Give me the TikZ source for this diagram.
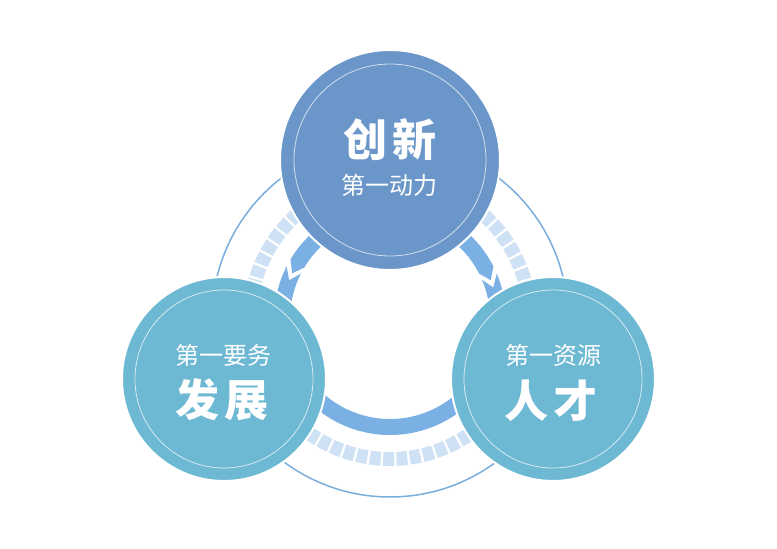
\documentclass[tikz,border=0pt]{standalone}
\usepackage{fontspec}
\newfontfamily\cjk{Noto Sans CJK SC}
\definecolor{topc}{HTML}{6A96C9}
\definecolor{sidec}{HTML}{6DB8D3}
\definecolor{bandc}{HTML}{7AB0E3}
\definecolor{sqc}{HTML}{CFE1F4}
\definecolor{ringc}{HTML}{7AAEDC}
\tikzset{
  bigcirc/.style={circle, inner sep=0pt, draw=white, line width=2pt},
  subtxt/.style={text=white, font=\cjk\fontsize{24}{24}\selectfont},
  bigtxt/.style={text=white, font=\cjk\bfseries\fontsize{44}{44}\selectfont},
  innerring/.style={draw=white, draw opacity=0.7, line width=0.8pt}
}
\begin{document}
\begin{tikzpicture}[x=1pt,y=1pt]
\useasboundingbox (0,0) rectangle (777,549);
\fill[white] (0,0) rectangle (777,549);
\coordinate (C) at (390,230);
% outer thin ring
\draw[ringc, line width=1.5pt] (C) circle[radius=178];
% squares ring
\draw[sqc, line width=14pt, dash pattern=on 10.8pt off 2.527pt] (C) circle[radius=140];
% arrow band
\begin{scope}[shift={(C)}]
\fill[bandc] (27:116) arc[start angle=27,end angle=149,radius=116] -- (155:108) -- (149:100)
  arc[start angle=149,end angle=27,radius=100] -- (21:108) -- cycle;
\fill[bandc] (153:116) arc[start angle=153,end angle=383,radius=116] -- (377:108) -- (383:100)
  arc[start angle=383,end angle=153,radius=100] -- (159:108) -- cycle;
\end{scope}
% circles
\node[bigcirc, fill=topc, minimum size=220pt] (top) at (390,389) {};
\node[bigcirc, fill=sidec, minimum size=204pt] (left) at (224,170) {};
\node[bigcirc, fill=sidec, minimum size=204pt] (right) at (553,170) {};
\draw[innerring] (top.center) circle[radius=96];
\draw[innerring] (left.center) circle[radius=89];
\draw[innerring] (right.center) circle[radius=89];
% texts
\node[bigtxt] (t1) at (390,409) {创\hspace{6pt}新};
\node[subtxt] (t2) at (389,364) {第一动力};
\node[subtxt] (l1) at (223,194) {第一要务};
\node[bigtxt] (l2) at (222,149) {发\hspace{6pt}展};
\node[subtxt] (r1) at (553,194) {第一资源};
\node[bigtxt] (r2) at (551,148) {人\hspace{6pt}才};
\end{tikzpicture}
\end{document}
